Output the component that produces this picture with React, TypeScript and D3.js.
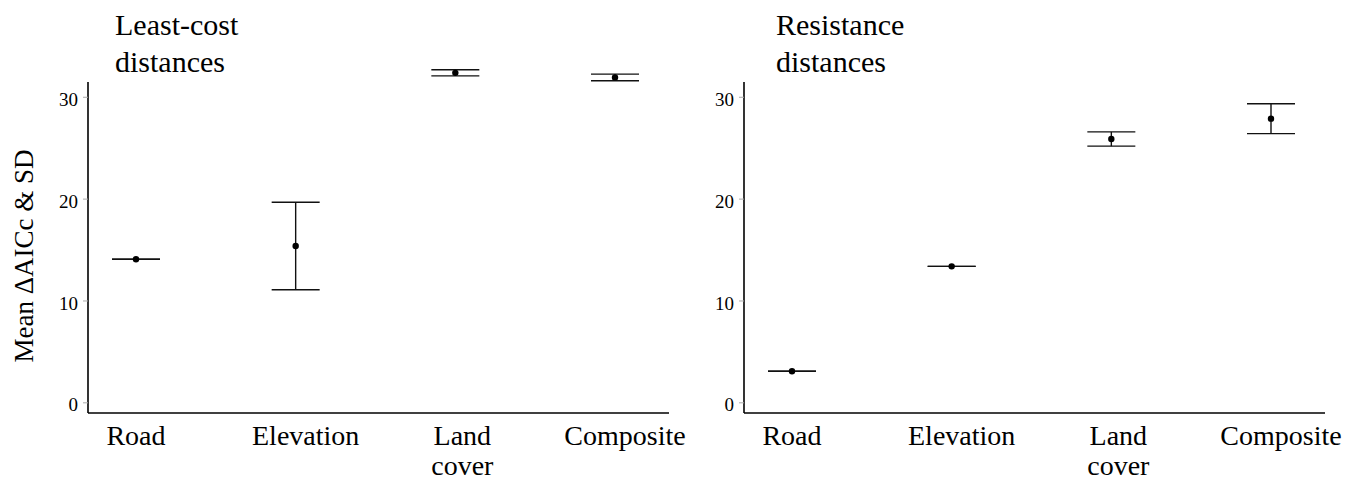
import React from 'react';
import * as d3 from 'd3';

// categories along the x axis (two-line labels split on space for "Land cover")
const categories = ['Road', 'Elevation', 'Land cover', 'Composite'];
const categoryLines = [['Road'], ['Elevation'], ['Land', 'cover'], ['Composite']];

// least-cost distances: mean delta AICc and SD
const leastCostMean = [14.1, 15.4, 32.4, 31.95];
const leastCostSD = [0, 4.3, 0.3, 0.32];

// resistance distances: mean delta AICc and SD
const resistanceMean = [3.1, 13.4, 25.9, 27.9];
const resistanceSD = [0, 0, 0.7, 1.47];

const yTicks = [0, 10, 20, 30];

const W = 1360;
const H = 481;
const FONT = '"Liberation Serif", "Times New Roman", serif';

function Panel({ x0, title, titleDx, means, sds }) {
  const axisTop = 82;
  const axisBottom = 413;
  const axisLen = 581;

  const y = d3.scaleLinear().domain([-1, 31.5]).range([axisBottom, axisTop]);
  const x = d3
    .scalePoint()
    .domain(categories)
    .range([x0 + 48, x0 + 48 + 479]);

  // label centres sit a little right of the points in the original
  const labelNudge = [0, 10, 7, 10];

  return (
    <g>
      {/* title */}
      <text x={x0 + titleDx} y={35} fontSize={30} fontFamily={FONT}>
        {title[0]}
      </text>
      <text x={x0 + titleDx} y={72} fontSize={30} fontFamily={FONT}>
        {title[1]}
      </text>

      {/* y axis */}
      <line x1={x0} x2={x0} y1={axisTop} y2={axisBottom} stroke="#000" strokeWidth={1.6} />
      {yTicks.map((t) => (
        <g key={t}>
          <line x1={x0 - 5} x2={x0} y1={y(t)} y2={y(t)} stroke="#aaa" strokeWidth={1} />
          <text
            x={x0 - 10}
            y={y(t)}
            dy="0.45em"
            textAnchor="end"
            fontSize={19}
            fontFamily={FONT}
          >
            {t}
          </text>
        </g>
      ))}

      {/* x axis */}
      <line x1={x0} x2={x0 + axisLen} y1={axisBottom} y2={axisBottom} stroke="#000" strokeWidth={1.6} />
      {categories.map((c, i) => (
        <text
          key={c}
          x={x(c) + labelNudge[i]}
          y={445}
          textAnchor="middle"
          fontSize={28}
          fontFamily={FONT}
        >
          {categoryLines[i].map((l, j) => (
            <tspan key={l} x={x(c) + labelNudge[i]} dy={j === 0 ? 0 : 30}>
              {l}
            </tspan>
          ))}
        </text>
      ))}

      {/* error bars and means */}
      {categories.map((c, i) => {
        const cx = x(c);
        const hi = y(means[i] + sds[i]);
        const lo = y(means[i] - sds[i]);
        return (
          <g key={c} stroke="#111" strokeWidth={1.4}>
            <line x1={cx - 24} x2={cx + 24} y1={hi} y2={hi} />
            <line x1={cx - 24} x2={cx + 24} y1={lo} y2={lo} />
            <line x1={cx} x2={cx} y1={hi} y2={lo} />
            <circle cx={cx} cy={y(means[i])} r={3.2} fill="#000" stroke="none" />
          </g>
        );
      })}
    </g>
  );
}

export default function App() {
  return (
    <svg
      width={W}
      height={H}
      style={{ position: 'absolute', left: 0, top: 0, background: '#fff' }}
    >
      <rect width={W} height={H} fill="#fff" />
      <text
        transform="translate(33,256) rotate(-90)"
        textAnchor="middle"
        fontSize={27}
        fontFamily={FONT}
      >
        Mean ΔAICc &amp; SD
      </text>
      <Panel
        x0={88}
        title={['Least-cost', 'distances']}
        titleDx={27}
        means={leastCostMean}
        sds={leastCostSD}
      />
      <Panel
        x0={744}
        title={['Resistance', 'distances']}
        titleDx={32}
        means={resistanceMean}
        sds={resistanceSD}
      />
    </svg>
  );
}
